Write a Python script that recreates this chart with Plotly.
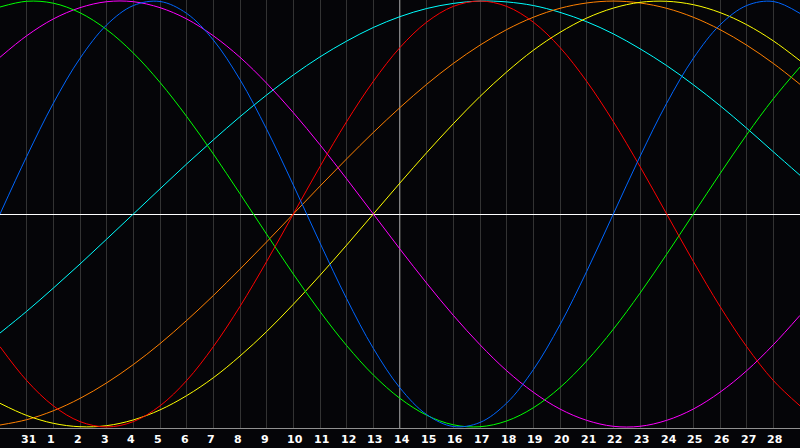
import plotly.graph_objects as go

# x positions (day slots) and the day labels shown under the gridlines
x_index = list(range(31))
label_slots = list(range(1, 30))
day_labels = ["31"] + [str(d) for d in range(1, 29)]
today_slot = 15  # the day "14", drawn with a white line

# cycle values per day slot
blue = [0.0, 0.27, 0.52, 0.731, 0.888, 0.979, 0.998, 0.942, 0.817, 0.631, 0.398,
        0.136, -0.136, -0.398, -0.631, -0.817, -0.942, -0.998, -0.979, -0.888, -0.731,
        -0.52, -0.27, 0.0, 0.27, 0.52, 0.731, 0.888, 0.979, 0.998, 0.942]
red = [-0.623, -0.782, -0.901, -0.975, -1.0, -0.975, -0.901, -0.782, -0.623, -0.434, -0.223,
       0.0, 0.223, 0.434, 0.623, 0.782, 0.901, 0.975, 1.0, 0.975, 0.901,
       0.782, 0.623, 0.434, 0.223, 0.0, -0.223, -0.434, -0.623, -0.782, -0.901]
green = [0.972, 0.999, 0.99, 0.945, 0.866, 0.756, 0.618, 0.458, 0.282, 0.095, -0.095,
         -0.282, -0.458, -0.618, -0.756, -0.866, -0.945, -0.99, -0.999, -0.972, -0.91,
         -0.815, -0.69, -0.541, -0.372, -0.189, 0.0, 0.189, 0.372, 0.541, 0.69]
magenta = [0.736, 0.837, 0.916, 0.969, 0.997, 0.997, 0.969, 0.916, 0.837, 0.736, 0.614,
           0.476, 0.325, 0.165, 0.0, -0.165, -0.325, -0.476, -0.614, -0.736, -0.837,
           -0.916, -0.969, -0.997, -0.997, -0.969, -0.916, -0.837, -0.736, -0.614, -0.476]
yellow = [-0.889, -0.946, -0.983, -0.999, -0.994, -0.967, -0.92, -0.853, -0.769, -0.667, -0.552,
          -0.424, -0.288, -0.146, 0.0, 0.146, 0.288, 0.424, 0.552, 0.667, 0.769,
          0.853, 0.92, 0.967, 0.994, 0.999, 0.983, 0.946, 0.889, 0.813, 0.72]
orange = [-0.991, -0.966, -0.924, -0.866, -0.793, -0.707, -0.609, -0.5, -0.383, -0.259, -0.131,
          0.0, 0.131, 0.259, 0.383, 0.5, 0.609, 0.707, 0.793, 0.866, 0.924,
          0.966, 0.991, 1.0, 0.991, 0.966, 0.924, 0.866, 0.793, 0.707, 0.609]
cyan = [-0.559, -0.457, -0.348, -0.235, -0.118, 0.0, 0.118, 0.235, 0.348, 0.457, 0.559,
        0.653, 0.738, 0.812, 0.876, 0.927, 0.965, 0.989, 1.0, 0.996, 0.979,
        0.947, 0.903, 0.846, 0.776, 0.697, 0.607, 0.509, 0.403, 0.292, 0.182]

series = [
    ("cyan", cyan, "#00ffff"),
    ("orange", orange, "#ff8000"),
    ("yellow", yellow, "#ffff00"),
    ("magenta", magenta, "#ff00ff"),
    ("green", green, "#00ff00"),
    ("red", red, "#ff0000"),
    ("blue", blue, "#0066ff"),
]

fig = go.Figure()
for name, vals, col in series:
    fig.add_trace(go.Scatter(x=x_index, y=vals, mode="lines", name=name,
                             line=dict(color=col, width=1, shape="spline", smoothing=1),
                             hoverinfo="skip"))

fig.add_shape(type="line", xref="x", yref="paper", x0=today_slot, x1=today_slot, y0=0, y1=1,
              line=dict(color="#ffffff", width=1), layer="below")

for slot, lab in zip(label_slots, day_labels):
    fig.add_annotation(x=slot, y=0, xref="x", yref="paper", text=lab, showarrow=False,
                       xanchor="left", yanchor="top", xshift=-8, yshift=-3,
                       font=dict(family="DejaVu Sans", size=11, color="#ffffff", weight="bold"))

fig.update_layout(
    width=800, height=448,
    margin=dict(l=0, r=0, t=0, b=20),
    paper_bgcolor="#050508", plot_bgcolor="#050508",
    showlegend=False,
    xaxis=dict(range=[0, 30], tickmode="array", tickvals=label_slots, showticklabels=False,
               ticks="", showgrid=True, gridcolor="#333333", gridwidth=1, zeroline=False,
               showline=True, linecolor="#909090", linewidth=1, mirror=True, fixedrange=True),
    yaxis=dict(range=[-1.005, 1.005], showticklabels=False, ticks="", showgrid=False,
               zeroline=True, zerolinecolor="#ffffff", zerolinewidth=1,
               showline=True, linecolor="#909090", linewidth=1, mirror=False, fixedrange=True),
)

fig.write_html("out.html", config={"displayModeBar": False},
               post_script="document.body.style.margin='0px';document.body.style.overflow='hidden';document.body.style.background='#050508';")
